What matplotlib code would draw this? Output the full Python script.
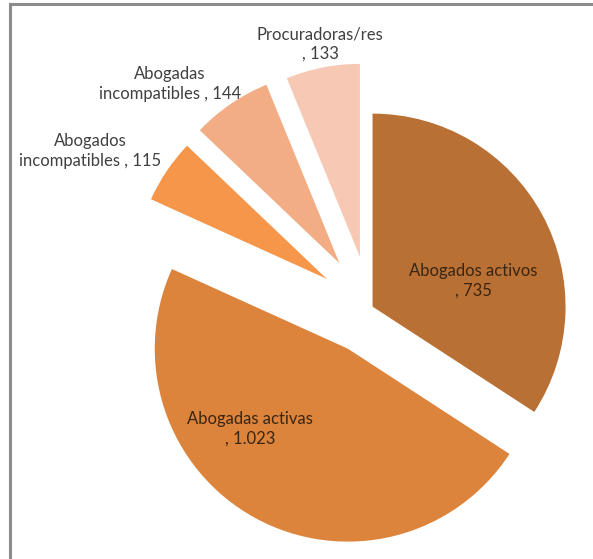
import matplotlib
matplotlib.use('Agg')
import matplotlib.pyplot as plt
from matplotlib.lines import Line2D

# datos del grafico
categorias = ['Abogados activos', 'Abogadas activas', 'Abogados\nincompatibles',
              'Abogadas\nincompatibles', 'Procuradoras/res']
valores = [735, 1023, 115, 144, 133]
etiquetas_valor = ['735', '1.023', '115', '144', '133']

# estilo
COLORES = ['#B97034', '#DC843C', '#F5964A', '#F3AD85', '#F7C9B5']
EXPLODE = [0.015, 0.24, 0.27, 0.28, 0.27]   # fraccion del radio
W, H = 593, 559
CENTRO = (370, H - 308)
RADIO = 193
# posiciones de las etiquetas en pixeles (x, y desde arriba)
POS_ETIQ = [(473, 281), (250, 429), (90, 151), (170, 84), (320, 44)]
COLOR_ETIQ = ['#3a2510', '#3a2510', '#404040', '#404040', '#404040']

fig = plt.figure(figsize=(W / 100, H / 100), dpi=100)
ax = fig.add_axes([0, 0, 1, 1])
# explode de matplotlib va en unidades de datos -> escalar con el radio
ax.pie(valores, colors=COLORES, explode=[e * RADIO for e in EXPLODE],
       startangle=90, counterclock=False,
       center=CENTRO, radius=RADIO, frame=False,
       wedgeprops=dict(linewidth=0))
ax.set_xlim(0, W)
ax.set_ylim(0, H)
ax.set_aspect('equal')
ax.axis('off')

for cat, val, (x, y), col in zip(categorias, etiquetas_valor, POS_ETIQ, COLOR_ETIQ):
    if '\n' in cat:
        txt = f'{cat} , {val}'
    else:
        txt = f'{cat}\n, {val}'
    ax.text(x, H - y, txt, ha='center', va='center', fontsize=12,
            family='Lato', color=col, linespacing=1.3)

# marco gris (arriba e izquierda)
fig.add_artist(Line2D([10 / W, 10 / W], [0, 1 - 4 / H], transform=fig.transFigure,
                      color='#8c8c8c', linewidth=2.2))
fig.add_artist(Line2D([10 / W, 1], [1 - 4 / H, 1 - 4 / H], transform=fig.transFigure,
                      color='#8c8c8c', linewidth=2.2))

fig.savefig('out.png', dpi=100)
